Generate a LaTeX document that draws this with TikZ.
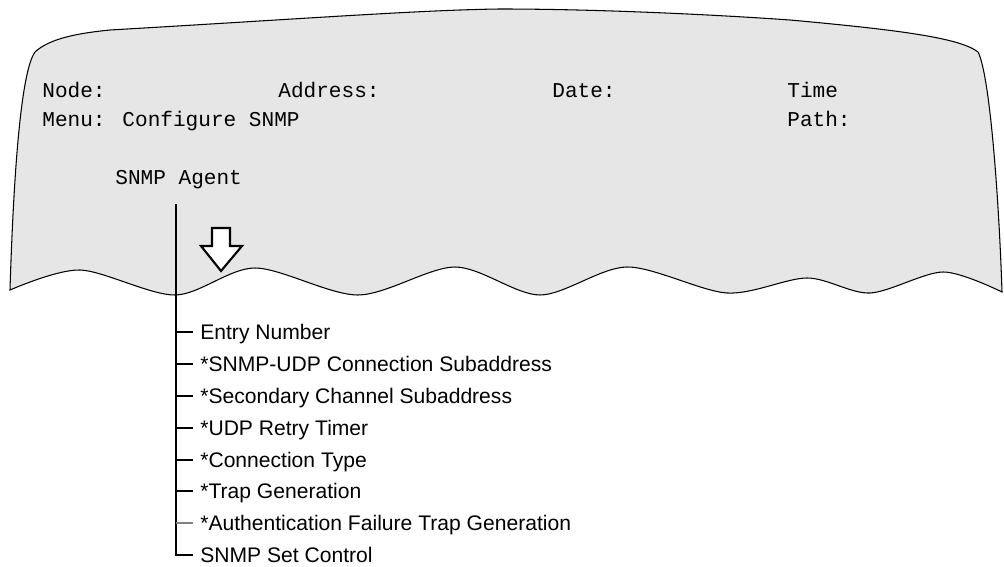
\documentclass[tikz,border=0pt]{standalone}
\usepackage{fontspec}
\setmainfont{Liberation Sans}
\newfontfamily\scrfont{Liberation Mono}
\usepackage{tikz}
\usetikzlibrary{positioning}
\definecolor{screengray}{HTML}{E6E6E6}
\tikzset{scr/.style={font=\scrfont\fontsize{12}{14}\selectfont,anchor=base west,inner sep=0pt}}
\tikzset{item/.style={font=\fontsize{12}{14}\selectfont,anchor=west,inner xsep=0.14cm,inner ysep=0pt,text height=8.6pt,text depth=0pt}}
\tikzset{branch/.style={line width=1pt}}

\begin{document}
\begin{tikzpicture}[x=0.02cm,y=-0.02cm]
\useasboundingbox (0,0) rectangle (1004,567);
% torn screen
{
\filldraw[fill=screengray,draw=black,line width=0.6pt]
  (10,290) .. controls (14,160) and (22,70) .. (35,52)
  .. controls (50,38) and (80,33) .. (110,30)
  .. controls (300,19) and (420,10) .. (500,9)
  .. controls (600,9) and (720,15) .. (790,20)
  .. controls (900,30) and (960,38) .. (978,52)
  .. controls (990,75) and (999,200) .. (1002,292)
  -- plot[smooth] coordinates {(1002,292) (943,272) (870,293) (807,278) (727,293) (627,267)
     (540,295) (455,267) (358,295) (255,268) (175,295) (80,270) (10,290)}
  -- cycle;
}
%
{
\node (node) [scr] at (42,98) {Node:};
\node (addr) [scr] at (278,98) {Address:};
\node (date) [scr] at (552,98) {Date:};
\node (time) [scr] at (787,98) {Time};
\node (menu) [scr] at (42,127) {Menu: Configure SNMP};
\node (path) [scr] at (787,127) {Path:};
\node (agent) [scr] at (115,185) {SNMP Agent};
}
%
% hollow arrow
\filldraw[fill=white,draw=black,line width=1.2pt,line join=miter]
  (212,228) -- (230,228) -- (230,246) -- (242,246) -- (221,271) -- (201,246) -- (212,246) -- cycle;
%
{
\coordinate (trunk) at (176,204);
\node (e1) [item] at (193,332) {Entry Number};
\node (e2) [item] at (193,364) {*SNMP-UDP Connection Subaddress};
\node (e3) [item] at (193,396) {*Secondary Channel Subaddress};
\node (e4) [item] at (193,428) {*UDP Retry Timer};
\node (e5) [item] at (193,460) {*Connection Type};
\node (e6) [item] at (193,491) {*Trap Generation};
\node (e7) [item] at (193,523) {*Authentication Failure Trap Generation};
\node (e8) [item] at (193,555) {SNMP Set Control};
}
%
{
\draw[branch,line join=miter] (trunk) -- (trunk |- e8.west) -- (e8.west);
\draw[branch] (trunk |- e1.west) -- (e1.west);
\draw[branch] (trunk |- e2.west) -- (e2.west);
\draw[branch] (trunk |- e3.west) -- (e3.west);
\draw[branch] (trunk |- e4.west) -- (e4.west);
\draw[branch] (trunk |- e5.west) -- (e5.west);
\draw[branch] (trunk |- e6.west) -- (e6.west);
\draw[branch,gray,line width=0.6pt] (trunk |- e7.west) -- (e7.west);
}
\end{tikzpicture}
\end{document}
